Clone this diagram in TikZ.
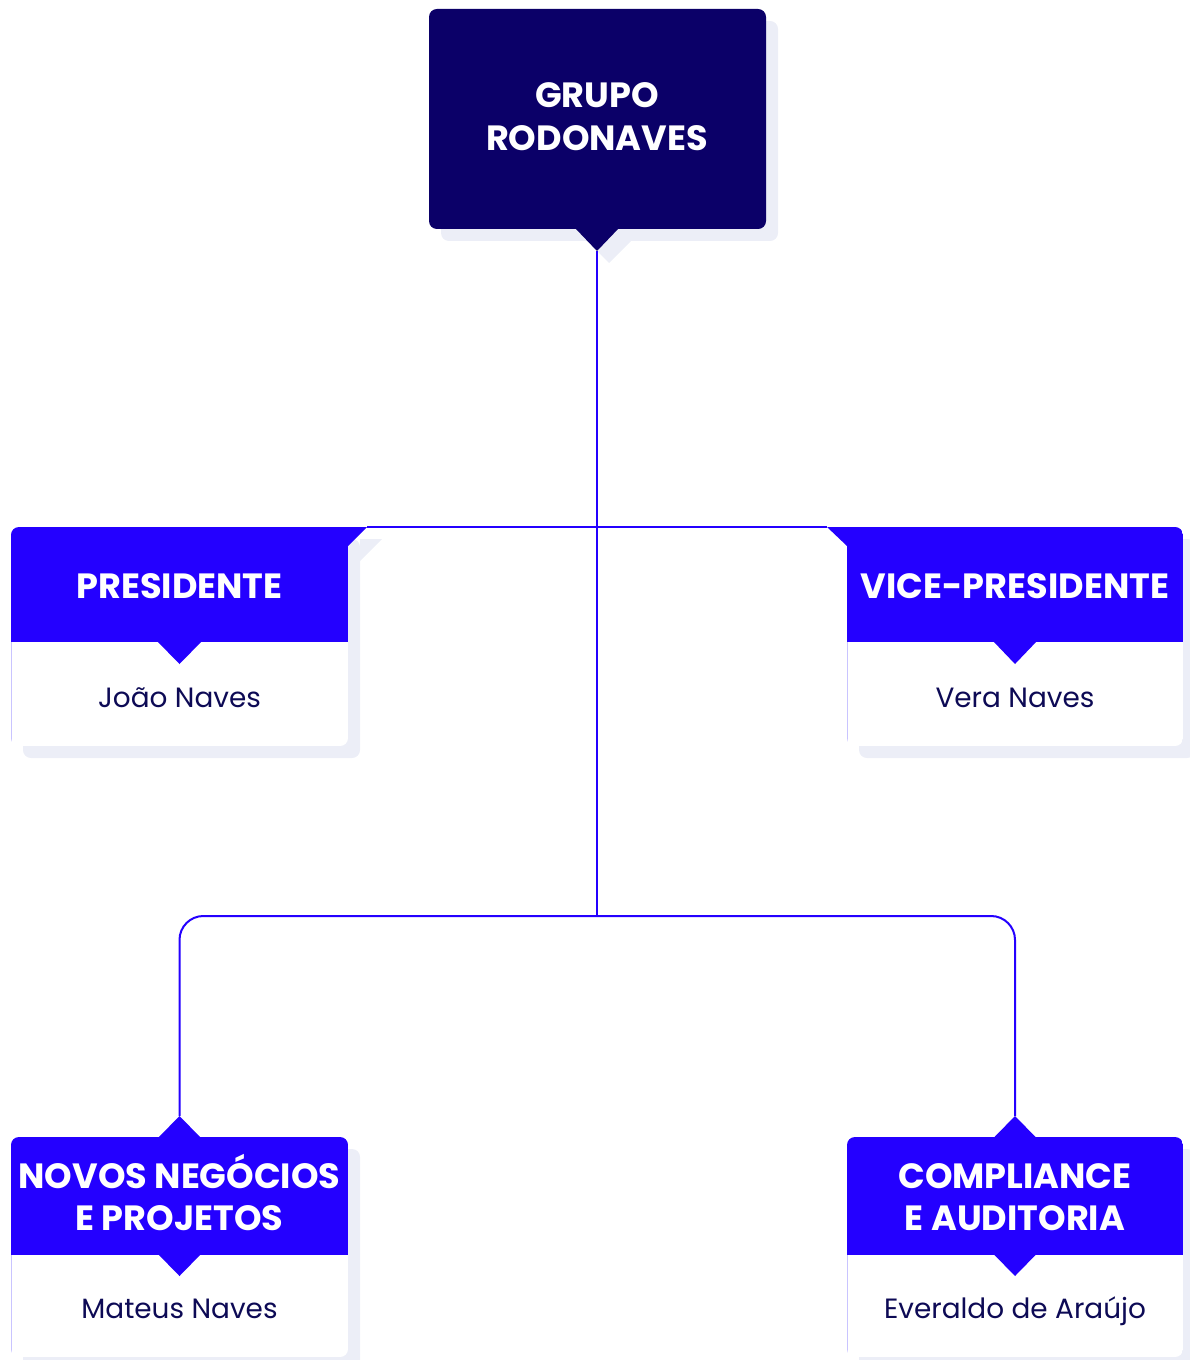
\documentclass[tikz,border=0pt]{standalone}
\usepackage{fontspec}
\setmainfont{Poppins}
\definecolor{navyc}{HTML}{0B0068}
\definecolor{headc}{HTML}{2400FF}
\definecolor{linec}{HTML}{2400FF}
\definecolor{namec}{HTML}{0D0A55}
\definecolor{shadowc}{HTML}{ECEEF7}
\definecolor{edgec}{HTML}{C9C4FF}
\tikzset{
  shadowfill/.style={fill=shadowc},
  headfill/.style={fill=headc},
  link/.style={draw=linec, line width=2bp},
  headtext/.style={text=white, anchor=base, inner sep=0pt, font=\fontsize{35.2}{42}\selectfont\bfseries},
  nametext/.style={text=namec, anchor=base, inner sep=0pt, font=\fontsize{28}{34}\selectfont},
}
\begin{document}
\begin{tikzpicture}[x=1bp,y=-1bp]
\useasboundingbox (0,0) rectangle (1189,1360);

% ---------- shadows ----------
\fill[shadowfill, rounded corners=8] (441,21) rectangle (778,241);
\fill[shadowfill] (587,241) -- (609,263) -- (631,241) -- cycle;
\fill[shadowfill, rounded corners=8] (23,539) rectangle (360,758);
\fill[shadowfill] (360,539) -- (382,539) -- (360,561) -- cycle;
\fill[shadowfill, rounded corners=8] (859,539) rectangle (1195,758);
\fill[shadowfill, rounded corners=8] (23,1149) rectangle (360,1372);
\fill[shadowfill, rounded corners=8] (859,1149) rectangle (1195,1372);

% ---------- connector points ----------
\coordinate (topTip) at (597,251);
\coordinate (presTab) at (367,527);
\coordinate (viceTab) at (827,527);
\coordinate (hub) at (597,916);
\coordinate (novTip) at (179.5,1116);
\coordinate (comTip) at (1015,1116);

% ---------- connectors ----------
\draw[link] (topTip) -- (hub);
\draw[link] (presTab) -- (viceTab);
\draw[link, rounded corners=24] (novTip) |- (hub) -| (comTip);

% ---------- top box ----------
\fill[navyc, rounded corners=8] (429,9) rectangle (766,229);
\fill[navyc] (575,228) -- (597,251) -- (619,228) -- cycle;
\node[headtext] (grupo1) at (597,108) {GRUPO};
\node[headtext] (grupo2) at (597,151) {RODONAVES};

% ---------- presidente ----------
\begin{scope}
  \clip[rounded corners=8] (11,527) rectangle (348,746);
  \fill[white] (11,527) rectangle (348,746);
  \fill[headfill] (11,527) rectangle (348,642);
  \draw[edgec, line width=0.8bp] (11.4,642) -- (11.4,746);
\end{scope}
\fill[headfill] (340,527) -- (367,527) -- (348,546) -- (340,546) -- cycle;
\fill[headfill] (157,641) -- (179.5,664) -- (202,641) -- cycle;
\node[headtext] (pres) at (179.5,598) {PRESIDENTE};
\node[nametext] (presname) at (179.5,707.5) {João Naves};

% ---------- vice-presidente ----------
\begin{scope}
  \clip[rounded corners=8] (847,527) rectangle (1183,746);
  \fill[white] (847,527) rectangle (1183,746);
  \fill[headfill] (847,527) rectangle (1183,642);
  \draw[edgec, line width=0.8bp] (847.4,642) -- (847.4,746);
\end{scope}
\fill[headfill] (827,527) -- (855,527) -- (855,546) -- (847,546) -- cycle;
\fill[headfill] (993,641) -- (1015,664) -- (1037,641) -- cycle;
\node[headtext] (vice) at (1015,598) {VICE-PRESIDENTE};
\node[nametext] (vicename) at (1015,707.5) {Vera Naves};

% ---------- novos negocios ----------
\begin{scope}
  \clip[rounded corners=8] (11,1137) rectangle (348,1357);
  \fill[white] (11,1137) rectangle (348,1357);
  \fill[headfill] (11,1137) rectangle (348,1255);
  \draw[edgec, line width=0.8bp] (11.4,1255) -- (11.4,1357);
\end{scope}
\fill[headfill] (158,1138) -- (179.5,1116) -- (201,1138) -- cycle;
\fill[headfill] (158,1254) -- (179.5,1276) -- (201,1254) -- cycle;
\node[headtext] (nov1) at (179.5,1188) {NOVOS NEGÓCIOS};
\node[headtext] (nov2) at (179.5,1230) {E PROJETOS};
\node[nametext] (novname) at (179.5,1318) {Mateus Naves};

% ---------- compliance ----------
\begin{scope}
  \clip[rounded corners=8] (847,1137) rectangle (1183,1357);
  \fill[white] (847,1137) rectangle (1183,1357);
  \fill[headfill] (847,1137) rectangle (1183,1255);
  \draw[edgec, line width=0.8bp] (847.4,1255) -- (847.4,1357);
\end{scope}
\fill[headfill] (993.5,1138) -- (1015,1116) -- (1036.5,1138) -- cycle;
\fill[headfill] (993.5,1254) -- (1015,1276) -- (1036.5,1254) -- cycle;
\node[headtext] (com1) at (1015,1188) {COMPLIANCE};
\node[headtext] (com2) at (1015,1230) {E AUDITORIA};
\node[nametext] (comname) at (1015,1318) {Everaldo de Araújo};
\end{tikzpicture}
\end{document}
